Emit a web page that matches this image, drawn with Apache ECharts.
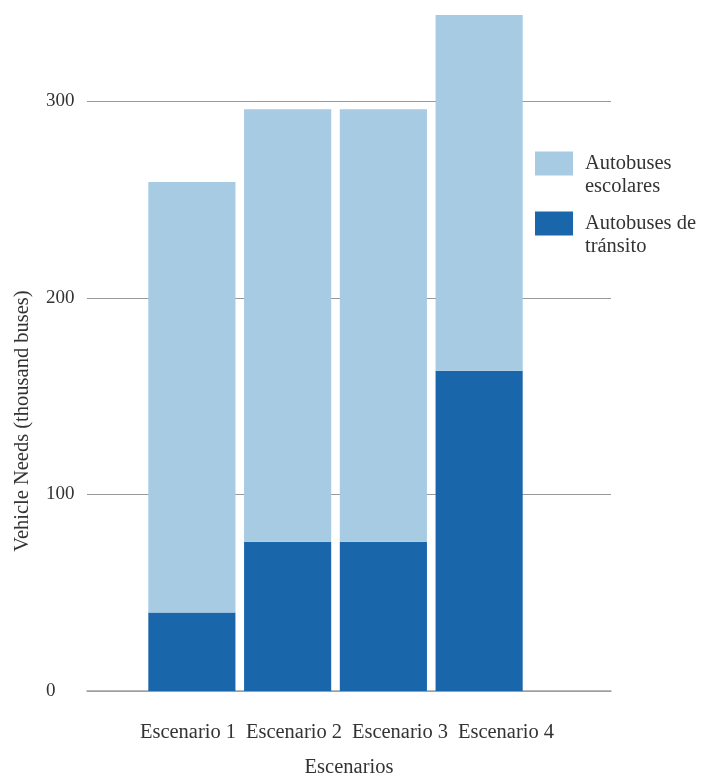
<!DOCTYPE html>
<html>
<head>
<meta charset="utf-8">
<script src="https://cdn.jsdelivr.net/npm/echarts@6/dist/echarts.min.js"></script>
<style>
  html, body { margin: 0; padding: 0; background: #ffffff; }
  #chart { width: 711px; height: 775px; }
</style>
</head>
<body>
<div id="chart"></div>
<script>
// Vehicle needs per scenario (thousand buses)
const categories = ['Escenario 1', 'Escenario 2', 'Escenario 3', 'Escenario 4'];
const transitBuses = [40, 76, 76, 163];
const schoolBuses = [219, 220, 220, 181];
const yTicks = [0, 100, 200, 300];

const seriesNames = ['Autobuses de\ntránsito', 'Autobuses\nescolares'];
const colors = { transit: '#1a66aa', school: '#a6cbe3' };
const FONT = '"Liberation Serif", "DejaVu Serif", serif';
const TEXT = '#333333';
const TXT_SIZE = 20.5;

const yMax = Math.max(...transitBuses.map((v, i) => v + schoolBuses[i]));

const chart = echarts.init(document.getElementById('chart'), null, { renderer: 'canvas' });

const hiddenY = (gridIndex) => ({
  type: 'value', gridIndex, min: 0, max: yMax, interval: 100, show: false
});

chart.setOption({
  animation: false,
  backgroundColor: '#ffffff',
  textStyle: { fontFamily: FONT },
  grid: [
    // frame: gridlines, value labels and titles
    { left: 87, right: 100, top: 15, bottom: 84, outerBoundsMode: 'none', containLabel: false },
    // stacked bars
    { left: 144, right: 184, top: 15, bottom: 84, outerBoundsMode: 'none', containLabel: false },
    // category labels
    { left: 135, right: 152, top: 15, bottom: 84, outerBoundsMode: 'none', containLabel: false }
  ],
  legend: {
    orient: 'vertical',
    left: 535,
    top: 129,
    padding: 0,
    itemWidth: 38,
    itemHeight: 24,
    itemGap: -9,
    icon: 'rect',
    data: [seriesNames[1], seriesNames[0]],
    // leading blank line keeps the swatch level with the first text line
    formatter: (name) => '\n' + name,
    textStyle: {
      fontFamily: FONT,
      fontSize: TXT_SIZE,
      color: TEXT,
      lineHeight: 23,
      padding: [0, 0, 0, 7]
    }
  },
  xAxis: [
    {
      type: 'category', gridIndex: 0, data: categories,
      name: 'Escenarios', nameLocation: 'middle', nameGap: 66,
      nameTextStyle: { fontFamily: FONT, fontSize: TXT_SIZE, color: TEXT },
      axisLine: { show: true, lineStyle: { color: '#a0a0a0', width: 1.5 } },
      axisTick: { show: false },
      axisLabel: { show: false }
    },
    {
      type: 'category', gridIndex: 1, data: categories, show: false
    },
    {
      type: 'category', gridIndex: 2, data: categories,
      axisLine: { show: false },
      axisTick: { show: false },
      axisLabel: { fontFamily: FONT, fontSize: TXT_SIZE, color: TEXT, margin: 31, interval: 0 }
    }
  ],
  yAxis: [
    {
      type: 'value', gridIndex: 0, min: 0, max: yMax, interval: 100,
      name: 'Vehicle Needs (thousand buses)',
      nameLocation: 'middle', nameRotate: 90, nameGap: 54,
      nameTextStyle: { fontFamily: FONT, fontSize: TXT_SIZE, color: TEXT, padding: [0, 136, 0, 0] },
      axisLine: { show: false },
      axisTick: { show: false },
      axisLabel: {
        fontFamily: FONT, fontSize: 19, color: TEXT, align: 'left', margin: 41,
        showMaxLabel: false,
        formatter: (v) => (yTicks.includes(v) ? String(v) : '')
      },
      splitLine: { show: true, showMaxLine: false, lineStyle: { color: '#999999', width: 1.2 } }
    },
    hiddenY(1),
    hiddenY(2)
  ],
  series: [
    {
      name: seriesNames[0], type: 'bar', stack: 'total',
      xAxisIndex: 1, yAxisIndex: 1,
      data: transitBuses, barWidth: '91%',
      itemStyle: { color: colors.transit }
    },
    {
      name: seriesNames[1], type: 'bar', stack: 'total',
      xAxisIndex: 1, yAxisIndex: 1,
      data: schoolBuses, barWidth: '91%',
      itemStyle: { color: colors.school }
    }
  ]
});
</script>
</body>
</html>
